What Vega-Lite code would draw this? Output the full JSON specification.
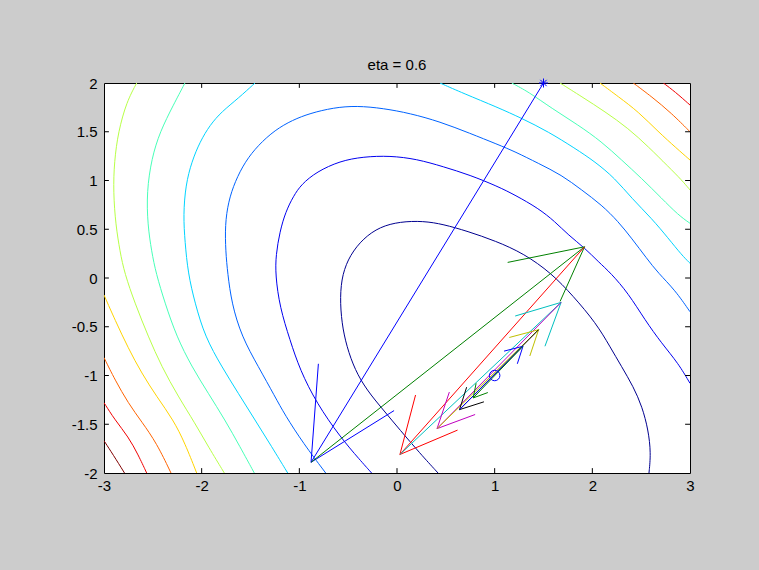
{
  "$schema": "https://vega.github.io/schema/vega-lite/v6.json",
  "width": 586,
  "height": 390,
  "autosize": {"type": "none"},
  "padding": {"left": 104, "top": 83, "right": 69, "bottom": 97},
  "background": "#cccccc",
  "title": {
    "text": "eta = 0.6",
    "font": "Liberation Sans",
    "fontSize": 15,
    "fontWeight": "normal",
    "color": "black",
    "anchor": "middle",
    "baseline": "alphabetic",
    "offset": -9
  },
  "config": {
    "view": {"fill": "white", "stroke": "black", "strokeWidth": 1},
    "axis": {
      "grid": false,
      "domain": false,
      "title": null,
      "ticks": false,
      "labelFont": "Liberation Sans",
      "labelFontSize": 15,
      "labelColor": "black",
      "labelFlush": false,
      "labelOverlap": false
    }
  },
  "datasets": {
    "contours": [
      {"s":"n","l":1,"o":0,"x":0.42,"y":-2.0},{"s":"n","l":1,"o":1,"x":0.235,"y":-1.798},{"s":"n","l":1,"o":2,"x":0.031,"y":-1.559},{"s":"n","l":1,"o":3,"x":-0.14,"y":-1.354},{"s":"n","l":1,"o":4,"x":-0.31,"y":-1.149},{"s":"n","l":1,"o":5,"x":-0.43,"y":-0.944},{"s":"n","l":1,"o":6,"x":-0.515,"y":-0.705},{"s":"n","l":1,"o":7,"x":-0.566,"y":-0.465},{"s":"n","l":1,"o":8,"x":-0.584,"y":-0.192},{"s":"n","l":1,"o":9,"x":-0.56,"y":0.04},{"s":"n","l":1,"o":10,"x":-0.481,"y":0.236},{"s":"n","l":1,"o":11,"x":-0.345,"y":0.407},{"s":"n","l":1,"o":12,"x":-0.174,"y":0.526},{"s":"n","l":1,"o":13,"x":0.031,"y":0.578},{"s":"n","l":1,"o":14,"x":0.269,"y":0.585},{"s":"n","l":1,"o":15,"x":0.474,"y":0.551},{"s":"n","l":1,"o":16,"x":0.72,"y":0.48},{"s":"n","l":1,"o":17,"x":1.01,"y":0.38},{"s":"n","l":1,"o":18,"x":1.3,"y":0.25},{"s":"n","l":1,"o":19,"x":1.58,"y":0.05},{"s":"n","l":1,"o":20,"x":1.8,"y":-0.18},{"s":"n","l":1,"o":21,"x":2.04,"y":-0.465},{"s":"n","l":1,"o":22,"x":2.181,"y":-0.705},{"s":"n","l":1,"o":23,"x":2.3,"y":-0.909},{"s":"n","l":1,"o":24,"x":2.42,"y":-1.115},{"s":"n","l":1,"o":25,"x":2.51,"y":-1.32},{"s":"n","l":1,"o":26,"x":2.573,"y":-1.559},{"s":"n","l":1,"o":27,"x":2.6,"y":-1.798},{"s":"n","l":1,"o":28,"x":2.58,"y":-2.0},

      {"s":"b","l":2,"o":0,"x":-0.26,"y":-2.0},{"s":"b","l":2,"o":1,"x":-0.379,"y":-1.867},{"s":"b","l":2,"o":2,"x":-0.584,"y":-1.628},{"s":"b","l":2,"o":3,"x":-0.822,"y":-1.285},{"s":"b","l":2,"o":4,"x":-0.993,"y":-0.944},{"s":"b","l":2,"o":5,"x":-1.096,"y":-0.636},{"s":"b","l":2,"o":6,"x":-1.2,"y":-0.3},{"s":"b","l":2,"o":7,"x":-1.245,"y":0.031},{"s":"b","l":2,"o":8,"x":-1.24,"y":0.236},{"s":"b","l":2,"o":9,"x":-1.2,"y":0.475},{"s":"b","l":2,"o":10,"x":-1.14,"y":0.68},{"s":"b","l":2,"o":11,"x":-1.06,"y":0.84},{"s":"b","l":2,"o":12,"x":-0.98,"y":0.96},{"s":"b","l":2,"o":13,"x":-0.822,"y":1.09},{"s":"b","l":2,"o":14,"x":-0.584,"y":1.2},{"s":"b","l":2,"o":15,"x":-0.345,"y":1.244},{"s":"b","l":2,"o":16,"x":-0.072,"y":1.254},{"s":"b","l":2,"o":17,"x":0.202,"y":1.22},{"s":"b","l":2,"o":18,"x":0.474,"y":1.142},{"s":"b","l":2,"o":19,"x":0.747,"y":1.056},{"s":"b","l":2,"o":20,"x":1.03,"y":0.94},{"s":"b","l":2,"o":21,"x":1.208,"y":0.851},{"s":"b","l":2,"o":22,"x":1.447,"y":0.715},{"s":"b","l":2,"o":23,"x":1.618,"y":0.578},{"s":"b","l":2,"o":24,"x":1.754,"y":0.441},{"s":"b","l":2,"o":25,"x":1.925,"y":0.305},{"s":"b","l":2,"o":26,"x":2.061,"y":0.167},{"s":"b","l":2,"o":27,"x":2.19,"y":0.05},{"s":"b","l":2,"o":28,"x":2.368,"y":-0.157},{"s":"b","l":2,"o":29,"x":2.539,"y":-0.431},{"s":"b","l":2,"o":30,"x":2.71,"y":-0.67},{"s":"b","l":2,"o":31,"x":2.88,"y":-0.875},{"s":"b","l":2,"o":32,"x":3.0,"y":-1.08},

      {"s":"lb","l":3,"o":0,"x":-0.73,"y":-2.0},{"s":"lb","l":3,"o":1,"x":-0.96,"y":-1.695},{"s":"lb","l":3,"o":2,"x":-1.15,"y":-1.4},{"s":"lb","l":3,"o":3,"x":-1.249,"y":-1.217},{"s":"lb","l":3,"o":4,"x":-1.42,"y":-0.909},{"s":"lb","l":3,"o":5,"x":-1.59,"y":-0.602},{"s":"lb","l":3,"o":6,"x":-1.693,"y":-0.26},{"s":"lb","l":3,"o":7,"x":-1.734,"y":0.05},{"s":"lb","l":3,"o":8,"x":-1.754,"y":0.27},{"s":"lb","l":3,"o":9,"x":-1.761,"y":0.544},{"s":"lb","l":3,"o":10,"x":-1.727,"y":0.783},{"s":"lb","l":3,"o":11,"x":-1.659,"y":0.988},{"s":"lb","l":3,"o":12,"x":-1.556,"y":1.193},{"s":"lb","l":3,"o":13,"x":-1.42,"y":1.364},{"s":"lb","l":3,"o":14,"x":-1.249,"y":1.518},{"s":"lb","l":3,"o":15,"x":-1.07,"y":1.62},{"s":"lb","l":3,"o":16,"x":-0.891,"y":1.689},{"s":"lb","l":3,"o":17,"x":-0.652,"y":1.747},{"s":"lb","l":3,"o":18,"x":-0.413,"y":1.767},{"s":"lb","l":3,"o":19,"x":-0.14,"y":1.74},{"s":"lb","l":3,"o":20,"x":0.133,"y":1.689},{"s":"lb","l":3,"o":21,"x":0.44,"y":1.603},{"s":"lb","l":3,"o":22,"x":0.747,"y":1.484},{"s":"lb","l":3,"o":23,"x":1.03,"y":1.37},{"s":"lb","l":3,"o":24,"x":1.208,"y":1.296},{"s":"lb","l":3,"o":25,"x":1.447,"y":1.176},{"s":"lb","l":3,"o":26,"x":1.686,"y":1.056},{"s":"lb","l":3,"o":27,"x":1.891,"y":0.903},{"s":"lb","l":3,"o":28,"x":2.096,"y":0.749},{"s":"lb","l":3,"o":29,"x":2.266,"y":0.578},{"s":"lb","l":3,"o":30,"x":2.403,"y":0.407},{"s":"lb","l":3,"o":31,"x":2.556,"y":0.202},{"s":"lb","l":3,"o":32,"x":2.675,"y":0.05},{"s":"lb","l":3,"o":33,"x":2.846,"y":-0.123},{"s":"lb","l":3,"o":34,"x":3.0,"y":-0.346},

      {"s":"c1","l":4,"o":0,"x":-1.119,"y":-2.0},{"s":"c1","l":4,"o":1,"x":-1.283,"y":-1.73},{"s":"c1","l":4,"o":2,"x":-1.454,"y":-1.456},{"s":"c1","l":4,"o":3,"x":-1.625,"y":-1.183},{"s":"c1","l":4,"o":4,"x":-1.795,"y":-0.909},{"s":"c1","l":4,"o":5,"x":-1.966,"y":-0.602},{"s":"c1","l":4,"o":6,"x":-2.068,"y":-0.26},{"s":"c1","l":4,"o":7,"x":-2.14,"y":0.05},{"s":"c1","l":4,"o":8,"x":-2.171,"y":0.372},{"s":"c1","l":4,"o":9,"x":-2.188,"y":0.646},{"s":"c1","l":4,"o":10,"x":-2.164,"y":0.954},{"s":"c1","l":4,"o":11,"x":-2.102,"y":1.193},{"s":"c1","l":4,"o":12,"x":-2.017,"y":1.398},{"s":"c1","l":4,"o":13,"x":-1.915,"y":1.569},{"s":"c1","l":4,"o":14,"x":-1.795,"y":1.706},{"s":"c1","l":4,"o":15,"x":-1.625,"y":1.843},{"s":"c1","l":4,"o":16,"x":-1.454,"y":2.0},
      {"s":"c2","l":4,"o":0,"x":0.44,"y":2.0},{"s":"c2","l":4,"o":1,"x":0.679,"y":1.894},{"s":"c2","l":4,"o":2,"x":1.03,"y":1.75},{"s":"c2","l":4,"o":3,"x":1.277,"y":1.638},{"s":"c2","l":4,"o":4,"x":1.55,"y":1.5},{"s":"c2","l":4,"o":5,"x":1.822,"y":1.33},{"s":"c2","l":4,"o":6,"x":2.027,"y":1.193},{"s":"c2","l":4,"o":7,"x":2.232,"y":1.022},{"s":"c2","l":4,"o":8,"x":2.403,"y":0.817},{"s":"c2","l":4,"o":9,"x":2.607,"y":0.612},{"s":"c2","l":4,"o":10,"x":2.778,"y":0.407},{"s":"c2","l":4,"o":11,"x":2.915,"y":0.236},{"s":"c2","l":4,"o":12,"x":3.0,"y":0.151},

      {"s":"a1","l":5,"o":0,"x":-1.461,"y":-2.0},{"s":"a1","l":5,"o":1,"x":-1.608,"y":-1.73},{"s":"a1","l":5,"o":2,"x":-1.761,"y":-1.456},{"s":"a1","l":5,"o":3,"x":-1.932,"y":-1.183},{"s":"a1","l":5,"o":4,"x":-2.102,"y":-0.909},{"s":"a1","l":5,"o":5,"x":-2.256,"y":-0.602},{"s":"a1","l":5,"o":6,"x":-2.375,"y":-0.26},{"s":"a1","l":5,"o":7,"x":-2.468,"y":0.05},{"s":"a1","l":5,"o":8,"x":-2.512,"y":0.27},{"s":"a1","l":5,"o":9,"x":-2.553,"y":0.544},{"s":"a1","l":5,"o":10,"x":-2.563,"y":0.885},{"s":"a1","l":5,"o":11,"x":-2.512,"y":1.228},{"s":"a1","l":5,"o":12,"x":-2.427,"y":1.5},{"s":"a1","l":5,"o":13,"x":-2.29,"y":1.774},{"s":"a1","l":5,"o":14,"x":-2.171,"y":2.0},
      {"s":"a2","l":5,"o":0,"x":1.174,"y":2.0},{"s":"a2","l":5,"o":1,"x":1.344,"y":1.911},{"s":"a2","l":5,"o":2,"x":1.584,"y":1.74},{"s":"a2","l":5,"o":3,"x":1.856,"y":1.569},{"s":"a2","l":5,"o":4,"x":2.095,"y":1.398},{"s":"a2","l":5,"o":5,"x":2.3,"y":1.21},{"s":"a2","l":5,"o":6,"x":2.505,"y":1.022},{"s":"a2","l":5,"o":7,"x":2.71,"y":0.817},{"s":"a2","l":5,"o":8,"x":2.88,"y":0.646},{"s":"a2","l":5,"o":9,"x":3.0,"y":0.561},

      {"s":"g1","l":6,"o":0,"x":-1.768,"y":-2.0},{"s":"g1","l":6,"o":1,"x":-1.932,"y":-1.73},{"s":"g1","l":6,"o":2,"x":-2.068,"y":-1.49},{"s":"g1","l":6,"o":3,"x":-2.239,"y":-1.217},{"s":"g1","l":6,"o":4,"x":-2.41,"y":-0.909},{"s":"g1","l":6,"o":5,"x":-2.546,"y":-0.602},{"s":"g1","l":6,"o":6,"x":-2.683,"y":-0.26},{"s":"g1","l":6,"o":7,"x":-2.79,"y":0.05},{"s":"g1","l":6,"o":8,"x":-2.836,"y":0.27},{"s":"g1","l":6,"o":9,"x":-2.88,"y":0.544},{"s":"g1","l":6,"o":10,"x":-2.905,"y":0.885},{"s":"g1","l":6,"o":11,"x":-2.895,"y":1.193},{"s":"g1","l":6,"o":12,"x":-2.854,"y":1.5},{"s":"g1","l":6,"o":13,"x":-2.768,"y":1.808},{"s":"g1","l":6,"o":14,"x":-2.665,"y":2.0},
      {"s":"g2","l":6,"o":0,"x":1.669,"y":2.0},{"s":"g2","l":6,"o":1,"x":1.891,"y":1.86},{"s":"g2","l":6,"o":2,"x":2.13,"y":1.706},{"s":"g2","l":6,"o":3,"x":2.368,"y":1.535},{"s":"g2","l":6,"o":4,"x":2.573,"y":1.347},{"s":"g2","l":6,"o":5,"x":2.778,"y":1.142},{"s":"g2","l":6,"o":6,"x":2.915,"y":1.005},{"s":"g2","l":6,"o":7,"x":3.0,"y":0.903},

      {"s":"y1","l":7,"o":0,"x":-2.051,"y":-2.0},{"s":"y1","l":7,"o":1,"x":-2.171,"y":-1.695},{"s":"y1","l":7,"o":2,"x":-2.29,"y":-1.456},{"s":"y1","l":7,"o":3,"x":-2.46,"y":-1.217},{"s":"y1","l":7,"o":4,"x":-2.614,"y":-0.977},{"s":"y1","l":7,"o":5,"x":-2.751,"y":-0.721},{"s":"y1","l":7,"o":6,"x":-2.887,"y":-0.431},{"s":"y1","l":7,"o":7,"x":-3.0,"y":-0.174},
      {"s":"y2","l":7,"o":0,"x":2.078,"y":2.0},{"s":"y2","l":7,"o":1,"x":2.266,"y":1.86},{"s":"y2","l":7,"o":2,"x":2.47,"y":1.706},{"s":"y2","l":7,"o":3,"x":2.675,"y":1.5},{"s":"y2","l":7,"o":4,"x":2.863,"y":1.33},{"s":"y2","l":7,"o":5,"x":3.0,"y":1.21},

      {"s":"o1","l":8,"o":0,"x":-2.314,"y":-2.0},{"s":"o1","l":8,"o":1,"x":-2.46,"y":-1.695},{"s":"o1","l":8,"o":2,"x":-2.614,"y":-1.474},{"s":"o1","l":8,"o":3,"x":-2.751,"y":-1.285},{"s":"o1","l":8,"o":4,"x":-2.887,"y":-1.046},{"s":"o1","l":8,"o":5,"x":-3.0,"y":-0.817},
      {"s":"o2","l":8,"o":0,"x":2.419,"y":2.0},{"s":"o2","l":8,"o":1,"x":2.607,"y":1.86},{"s":"o2","l":8,"o":2,"x":2.812,"y":1.689},{"s":"o2","l":8,"o":3,"x":3.0,"y":1.5},

      {"s":"r1","l":9,"o":0,"x":-2.563,"y":-2.0},{"s":"r1","l":9,"o":1,"x":-2.649,"y":-1.815},{"s":"r1","l":9,"o":2,"x":-2.751,"y":-1.628},{"s":"r1","l":9,"o":3,"x":-2.888,"y":-1.456},{"s":"r1","l":9,"o":4,"x":-3.0,"y":-1.279},
      {"s":"r2","l":9,"o":0,"x":2.727,"y":2.0},{"s":"r2","l":9,"o":1,"x":2.846,"y":1.911},{"s":"r2","l":9,"o":2,"x":3.0,"y":1.774},

      {"s":"d1","l":10,"o":0,"x":-2.79,"y":-2.0},{"s":"d1","l":10,"o":1,"x":-2.905,"y":-1.815},{"s":"d1","l":10,"o":2,"x":-3.0,"y":-1.669}
    ],
    "steps": [
      {"c":"b","x":1.5,"y":2.0,"x2":-0.88,"y2":-1.89},
      {"c":"b","x":-0.88,"y":-1.89,"x2":-0.805,"y2":-0.88},
      {"c":"b","x":-0.88,"y":-1.89,"x2":-0.03,"y2":-1.36},
      {"c":"g","x":-0.88,"y":-1.89,"x2":1.92,"y2":0.32},
      {"c":"g","x":1.92,"y":0.32,"x2":1.133,"y2":0.16},
      {"c":"g","x":1.92,"y":0.32,"x2":1.67,"y2":-0.24},
      {"c":"r","x":1.92,"y":0.32,"x2":0.03,"y2":-1.81},
      {"c":"r","x":0.03,"y":-1.81,"x2":0.19,"y2":-1.2},
      {"c":"r","x":0.03,"y":-1.81,"x2":0.62,"y2":-1.56},
      {"c":"c","x":0.03,"y":-1.81,"x2":1.68,"y2":-0.25},
      {"c":"c","x":1.68,"y":-0.25,"x2":1.21,"y2":-0.39},
      {"c":"c","x":1.68,"y":-0.25,"x2":1.515,"y2":-0.7},
      {"c":"m","x":1.68,"y":-0.25,"x2":0.41,"y2":-1.545},
      {"c":"m","x":0.41,"y":-1.545,"x2":0.536,"y2":-1.17},
      {"c":"m","x":0.41,"y":-1.545,"x2":0.8,"y2":-1.4},
      {"c":"y","x":0.41,"y":-1.545,"x2":1.45,"y2":-0.53},
      {"c":"y","x":1.45,"y":-0.53,"x2":1.15,"y2":-0.61},
      {"c":"y","x":1.45,"y":-0.53,"x2":1.36,"y2":-0.8},
      {"c":"k","x":1.45,"y":-0.53,"x2":0.64,"y2":-1.35},
      {"c":"k","x":0.64,"y":-1.35,"x2":0.713,"y2":-1.12},
      {"c":"k","x":0.64,"y":-1.35,"x2":0.89,"y2":-1.27},
      {"c":"b","x":0.64,"y":-1.35,"x2":1.29,"y2":-0.7},
      {"c":"b","x":1.29,"y":-0.7,"x2":1.096,"y2":-0.75},
      {"c":"b","x":1.29,"y":-0.7,"x2":1.232,"y2":-0.88},
      {"c":"g","x":1.29,"y":-0.7,"x2":0.78,"y2":-1.23},
      {"c":"g","x":0.78,"y":-1.23,"x2":0.81,"y2":-1.08},
      {"c":"g","x":0.78,"y":-1.23,"x2":0.93,"y2":-1.175}
    ],
    "marks": [
      {"k":"start","x":1.5,"y":2.0},
      {"k":"min","x":1.0,"y":-1.0}
    ],
    "xticks": [{"v":-2},{"v":-1},{"v":0},{"v":1},{"v":2}],
    "yticks": [{"v":-1.5},{"v":-1},{"v":-0.5},{"v":0},{"v":0.5},{"v":1},{"v":1.5}]
  },
  "layer": [
    {
      "data": {"name": "contours"},
      "mark": {"type": "line", "strokeWidth": 1, "interpolate": "basis", "clip": true},
      "encoding": {
        "x": {
          "field": "x", "type": "quantitative",
          "scale": {"domain": [-3, 3], "nice": false, "zero": false},
          "axis": {"orient": "bottom", "values": [-3, -2, -1, 0, 1, 2, 3], "labelPadding": 5, "labelExpr": "toString(datum.value)"}
        },
        "y": {
          "field": "y", "type": "quantitative",
          "scale": {"domain": [-2, 2], "nice": false, "zero": false},
          "axis": {"orient": "left", "values": [-2, -1.5, -1, -0.5, 0, 0.5, 1, 1.5, 2], "labelPadding": 7, "labelExpr": "toString(datum.value)"}
        },
        "detail": {"field": "s"},
        "order": {"field": "o", "type": "quantitative"},
        "color": {
          "field": "l", "type": "ordinal", "legend": null,
          "scale": {
            "domain": [1, 2, 3, 4, 5, 6, 7, 8, 9, 10],
            "range": ["#00008f", "#0000f0", "#0063ff", "#00d4ff", "#47ffb8", "#b8ff47", "#ffd400", "#ff6300", "#f10000", "#800000"]
          }
        }
      }
    },
    {
      "data": {"name": "xticks"},
      "mark": {"type": "rule", "color": "black", "strokeWidth": 1},
      "encoding": {
        "x": {"field": "v", "type": "quantitative"},
        "y": {"datum": -2},
        "y2": {"datum": -1.95}
      }
    },
    {
      "data": {"name": "xticks"},
      "mark": {"type": "rule", "color": "black", "strokeWidth": 1},
      "encoding": {
        "x": {"field": "v", "type": "quantitative"},
        "y": {"datum": 2},
        "y2": {"datum": 1.95}
      }
    },
    {
      "data": {"name": "yticks"},
      "mark": {"type": "rule", "color": "black", "strokeWidth": 1},
      "encoding": {
        "y": {"field": "v", "type": "quantitative"},
        "x": {"datum": -3},
        "x2": {"datum": -2.95}
      }
    },
    {
      "data": {"name": "yticks"},
      "mark": {"type": "rule", "color": "black", "strokeWidth": 1},
      "encoding": {
        "y": {"field": "v", "type": "quantitative"},
        "x": {"datum": 3},
        "x2": {"datum": 2.95}
      }
    },
    {
      "data": {"name": "steps"},
      "mark": {"type": "rule", "strokeWidth": 1, "clip": true},
      "encoding": {
        "x": {"field": "x", "type": "quantitative"},
        "y": {"field": "y", "type": "quantitative"},
        "x2": {"field": "x2"},
        "y2": {"field": "y2"},
        "stroke": {
          "field": "c", "type": "nominal", "legend": null,
          "scale": {
            "domain": ["b", "g", "r", "c", "m", "y", "k"],
            "range": ["#0000ff", "#008000", "#ff0000", "#00bfbf", "#bf00bf", "#bfbf00", "#000000"]
          }
        }
      }
    },
    {
      "data": {"name": "marks"},
      "transform": [{"filter": "datum.k === 'start'"}],
      "mark": {
        "type": "point",
        "shape": "M0,-1L0,1M-1,0L1,0M-0.7,-0.7L0.7,0.7M-0.7,0.7L0.7,-0.7",
        "filled": false,
        "stroke": "#0000ff",
        "strokeWidth": 1,
        "size": 81,
        "opacity": 1
      },
      "encoding": {
        "x": {"field": "x", "type": "quantitative"},
        "y": {"field": "y", "type": "quantitative"}
      }
    },
    {
      "data": {"name": "marks"},
      "transform": [{"filter": "datum.k === 'min'"}],
      "mark": {
        "type": "point",
        "shape": "circle",
        "filled": false,
        "stroke": "#0000ff",
        "strokeWidth": 1,
        "size": 110,
        "opacity": 1
      },
      "encoding": {
        "x": {"field": "x", "type": "quantitative"},
        "y": {"field": "y", "type": "quantitative"}
      }
    }
  ],
  "resolve": {
    "scale": {"color": "independent", "stroke": "independent"}
  }
}
